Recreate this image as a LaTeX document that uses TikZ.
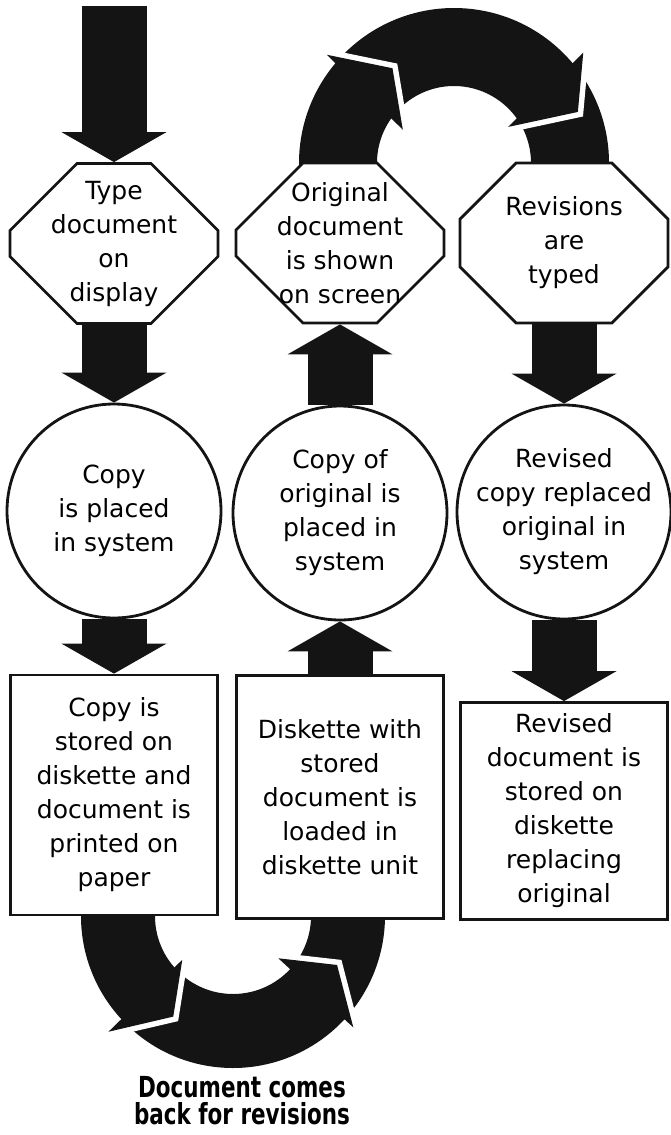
\documentclass[tikz,border=0pt]{standalone}
\usepackage{fontspec}
\setmainfont{DejaVu Sans}
\newfontfamily\captionfont{DejaVu Sans}[FakeStretch=0.74]
\usetikzlibrary{arrows.meta,shapes.misc}

\colorlet{flow color}{black!92}
\tikzset{
    x={1pt},
    y={-1pt},
    step text/.style={
        font={\fontsize{25}{34}\selectfont},
        align=center,
        fill=white,
        draw=flow color,
        line width={2.8pt},
        inner sep=0pt,
    },
    screen step/.style={
        step text, chamfered rectangle,
        chamfered rectangle xsep={35pt},
        chamfered rectangle ysep={32pt},
        inner sep={-22pt},
        minimum width={208},
        minimum height={160},
    },
    system step/.style={
        step text, circle,
        inner sep={-15pt},
        minimum size={214},
    },
    diskette step/.style={
        step text, rectangle,
        minimum width={207},
        minimum height={#1},
    },
    diskette step/.default={240},
    flow arrow/.style={
        draw=flow color,
        line width={65pt},
        -{Triangle[width=105pt, length=30pt, line width=0pt]},
    },
    loop band/.style={
        fill=flow color,
    },
    loop gap/.style={
        draw=white,
        line width={11pt},
        line join=miter,
    },
    loop head/.style={
        fill=flow color,
    },
    caption label/.style={
        font={\captionfont\bfseries\fontsize{29}{27}\selectfont},
        align=center,
        inner sep=0pt,
    },
}

\begin{document}
\begin{tikzpicture}
\useasboundingbox (0,0) rectangle (670,1135);
% loop over the top
\begin{scope}[shift={(454,163)}]
\fill[loop band] (4:155) arc[start angle=4, end angle=-184, radius=155] -- (-184:77) arc[start angle=-184, end angle=4, radius=77] -- cycle;
\draw[loop gap] (-139.6:167) -- (-123:113) -- (-147:61);
\fill[loop head] (-139.6:167) -- (-123:113) -- (-147:61) -- cycle;
\draw[loop gap] (-40.5:170) -- (-22.4:134) -- (-33.7:65);
\fill[loop head] (-40.5:170) -- (-22.4:134) -- (-33.7:65) -- cycle;
\end{scope}
% loop under the bottom
\begin{scope}[shift={(233,916)}]
\fill[loop band] (-176:152) arc[start angle=-176, end angle=-364, radius=152] -- (-364:78) arc[start angle=-364, end angle=-176, radius=78] -- cycle;
\draw[loop gap] (-222.9:170) -- (-239.3:117) -- (-220.8:67);
\fill[loop head] (-222.9:170) -- (-239.3:117) -- (-220.8:67) -- cycle;
\draw[loop gap] (-317:62) -- (-334.8:115) -- (-317.2:164);
\fill[loop head] (-317:62) -- (-334.8:115) -- (-317.2:164) -- cycle;
\end{scope}
% steps
\node[screen step] (typeDoc) at (114,243.5) {Type\\document\\on\\display};
\node[screen step] (showDoc) at (340,243) {Original\\document\\is shown\\on screen};
\node[screen step] (typeRev) at (564,243) {Revisions\\are\\typed};
\node[system step] (placeCopy) at (114,511) {Copy\\is placed\\in system};
\node[system step] (placeOrig) at (340,513) {Copy of\\original is\\placed in\\system};
\node[system step] (placeRev) at (564,512) {Revised\\copy replaced\\original in\\system};
\node[diskette step={240}] (storeCopy) at (114,795) {Copy is\\stored on\\diskette and\\document is\\printed on\\paper};
\node[diskette step={243}] (loadDisk) at (340,797) {Diskette with\\stored\\document is\\loaded in\\diskette unit};
\node[diskette step={217}] (storeRev) at (564,811) {Revised\\document is\\stored on\\diskette\\replacing\\original};
\node[caption label] (comesBack) at (242,1101) {Document comes\\back for revisions};
% flow
\coordinate (feed) at (114,6);
\draw[flow arrow] (feed) -- (typeDoc.north);
\draw[flow arrow] (typeDoc.south) -- (placeCopy.north);
\draw[flow arrow] (placeCopy.south) -- (storeCopy.north);
\draw[flow arrow] (loadDisk.north) -- (placeOrig.south);
\draw[flow arrow] (placeOrig.north) -- (showDoc.south);
\draw[flow arrow] (typeRev.south) -- (placeRev.north);
\draw[flow arrow] (placeRev.south) -- (storeRev.north);
\end{tikzpicture}
\end{document}
